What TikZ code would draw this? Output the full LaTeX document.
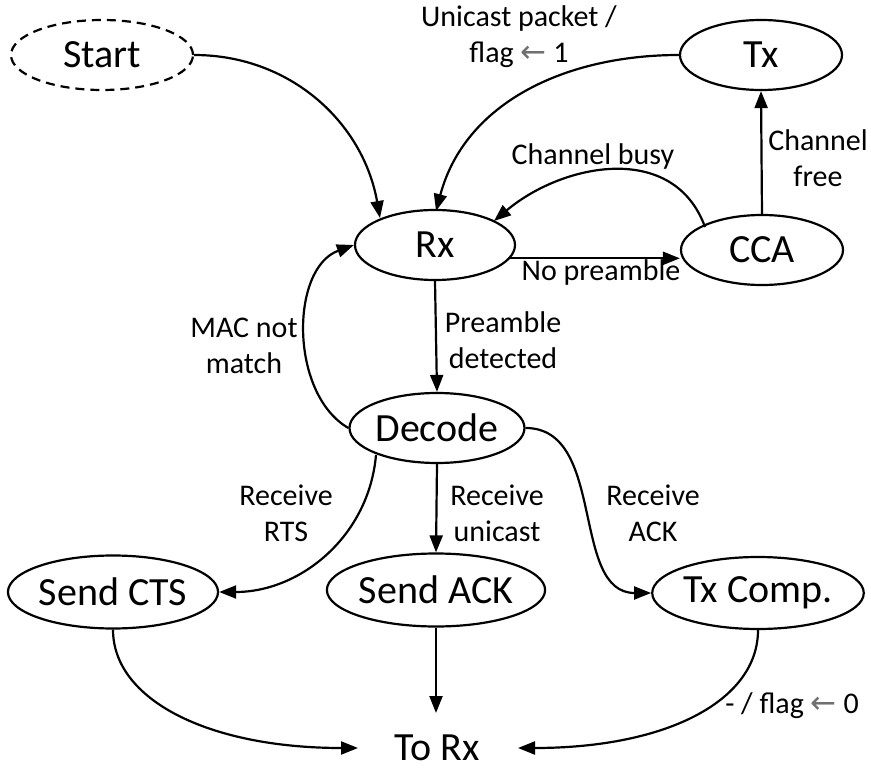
\documentclass[tikz,border=0pt]{standalone}
\usepackage{fontspec}
\setmainfont{Carlito}
\newfontfamily\symfont{DejaVu Sans}
\usetikzlibrary{shapes.geometric,arrows.meta}
\definecolor{arrgray}{HTML}{707070}
\newcommand{\garr}{{\color{arrgray}\symfont\fontsize{31}{36}\selectfont ←}}
\begin{document}
\begin{tikzpicture}[x=1pt,y=-1pt,
  state/.style={draw,ellipse,line width=2.2pt,inner sep=0pt,font=\fontsize{40}{44}\selectfont},
  lbl/.style={font=\fontsize{30}{36}\selectfont,align=center,inner sep=0pt},
  edge/.style={line width=2.2pt,-{Triangle[length=17pt,width=13pt]}}]
\useasboundingbox (0,0) rectangle (871,770);
\node[state,dash pattern=on 9pt off 6pt,minimum width=182,minimum height=70] (start) at (102,55) {Start};
\node[state,minimum width=162,minimum height=70] (tx) at (761,55) {Tx};
\node[state,minimum width=160,minimum height=70] (rx) at (435,245) {Rx};
\node[state,minimum width=162,minimum height=70] (cca) at (762,250) {CCA};
\node[state,minimum width=175,minimum height=70] (dec) at (437,428) {Decode};
\node[state,minimum width=210,minimum height=73] (cts) at (113,592) {Send CTS};
\node[state,minimum width=198,minimum height=73] (ack) at (436,590) {Send ACK};
\node[state,minimum width=185,minimum height=72] (tcp) at (758,593) {Tx Comp.};
\node[font=\fontsize{40}{44}\selectfont,inner sep=0pt,minimum width=160,minimum height=70] (torx) at (437,748) {To Rx};
% coordinates
\coordinate (rxa) at (380,218);
\coordinate (rxb) at (436,211);
\coordinate (rxc) at (494,221);
\coordinate (ccab) at (705,227);
\coordinate (decl) at (376,455);
\coordinate (torxw) at (358,748);
\coordinate (torxe) at (518,748);
\coordinate (torxn) at (436,713);
% edges
\draw[edge] (start.east) to[out=0,in=100] (rxa);
\draw[edge] (tx.west) to[out=180,in=75] (rxb);
\draw[edge] (ccab) to[out=110,in=40,looseness=1.1] (rxc);
\draw[edge] (rx.-10) -- (rx.-10 -| cca.west);
\draw[edge] (cca.north) -- (tx.south);
\draw[edge] (rx.south) -- (dec.north);
\draw[edge] (dec.west) to[out=150,in=200,looseness=0.95] (rx.west);
\draw[edge] (decl) to[out=-95,in=0] (cts.east);
\draw[edge] (dec.south) -- (ack.north);
\draw[edge] (dec.east) to[out=0,in=180] (tcp.west);
\draw[edge] (cts.south) .. controls +(0,70) and +(-150,0) .. (torxw);
\draw[edge] (ack.south) -- (torxn);
\draw[edge] (tcp.south) .. controls +(0,70) and +(150,0) .. (torxe);
% labels
\node[lbl] (l1) at (519,37) {Unicast packet /\\flag \garr{} 1};
\node[lbl] (l2) at (593,157) {Channel busy};
\node[lbl] (l3) at (818,158) {Channel\\free};
\node[lbl] (l4) at (601,273) {No preamble};
\node[lbl] (l5) at (503,340) {Preamble\\detected};
\node[lbl] (l6) at (244,346) {MAC not\\match};
\node[lbl] (l7) at (286,513) {Receive\\RTS};
\node[lbl] (l8) at (497,513) {Receive\\unicast};
\node[lbl] (l9) at (653,513) {Receive\\ACK};
\node[lbl] (l10) at (792,706) {- / flag \garr{} 0};
\end{tikzpicture}
\end{document}
